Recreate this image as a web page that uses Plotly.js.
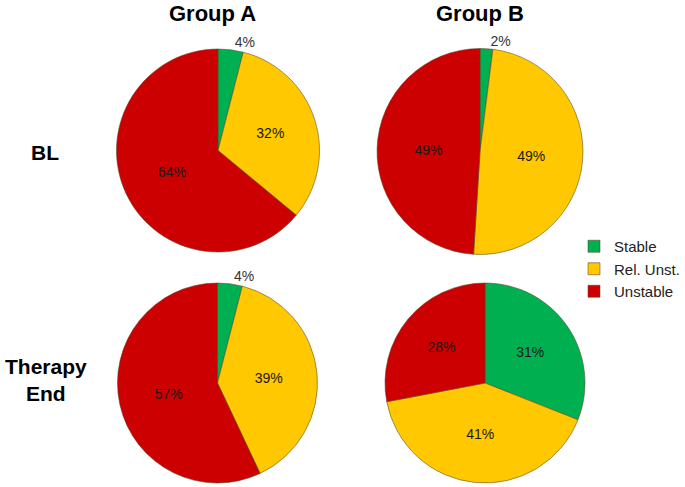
<!DOCTYPE html>
<html>
<head>
<meta charset="utf-8">
<script src="https://cdn.plot.ly/plotly-3.0.1.min.js"></script>
<style>
  body { margin: 0; background: #fff; }
  #chart { width: 685px; height: 487px; }
</style>
</head>
<body>
<div id="chart"></div>
<script>
// categories and colours
let categories = ["Stable", "Rel. Unst.", "Unstable"];
let sliceColors = ["#00B050", "#FFC800", "#CC0000"];

// percentages per group and time point
let groupA_BL = [4, 32, 64];
let groupB_BL = [2, 49, 49];
let groupA_End = [4, 39, 57];
let groupB_End = [31, 41, 28];

let groupNames = ["Group A", "Group B"];
let rowNames = ["BL", "Therapy<br>End"];

// one pie trace, placed in its own domain
function makePie(values, xDom, yDom, positions, showLegend) {
    return {
        type: "pie",
        labels: categories,
        values: values,
        sort: false,
        direction: "clockwise",
        rotation: 0,
        domain: { x: xDom, y: yDom },
        marker: { colors: sliceColors, line: { color: "rgba(90,70,40,0.55)", width: 1 } },
        texttemplate: "%{value}%",
        textposition: positions,
        insidetextorientation: "horizontal",
        insidetextfont: { family: "Liberation Sans, Arial, sans-serif", size: 14, color: "#1a1a1a" },
        outsidetextfont: { family: "Liberation Sans, Arial, sans-serif", size: 14, color: "#333" },
        hoverinfo: "label+percent",
        showlegend: showLegend
    };
}

var data = [
    makePie(groupA_BL, [0.1693, 0.4672], [0.4825, 0.8994], ["outside", "inside", "inside"], true),
    makePie(groupB_BL, [0.5504, 0.8511], [0.4764, 0.9014], ["outside", "inside", "inside"], false),
    makePie(groupA_End, [0.1708, 0.4642], [0.0082, 0.4189], ["outside", "inside", "inside"], false),
    makePie(groupB_End, [0.5620, 0.8540], [0.0082, 0.4189], ["inside", "inside", "inside"], false)
];

var headFont = { family: "Liberation Sans, Arial, sans-serif", size: 22, color: "#000" };
var rowFont = { family: "Liberation Sans, Arial, sans-serif", size: 21, color: "#000" };

// helper for centred text labels in paper coordinates (pixel positions)
function label(txt, px, py, font) {
    return { text: "<b>" + txt + "</b>", x: px / 685, y: 1 - py / 487, xref: "paper", yref: "paper",
             xanchor: "center", yanchor: "middle", showarrow: false, font: font };
}

var layout = {
    width: 685,
    height: 487,
    margin: { l: 0, r: 0, t: 0, b: 0 },
    paper_bgcolor: "#fff",
    showlegend: true,
    legend: {
        x: 1, xanchor: "right",
        y: 1 - 269 / 487, yanchor: "middle",
        font: { family: "Liberation Sans, Arial, sans-serif", size: 15, color: "#222" },
        bgcolor: "rgba(0,0,0,0)"
    },
    annotations: [
        label(groupNames[0], 212, 14, headFont),
        label(groupNames[1], 480, 14, headFont),
        label(rowNames[0], 45, 153, rowFont),
        label(rowNames[1], 46, 380, rowFont)
    ]
};

Plotly.newPlot("chart", data, layout, { displayModeBar: false });
</script>
</body>
</html>
